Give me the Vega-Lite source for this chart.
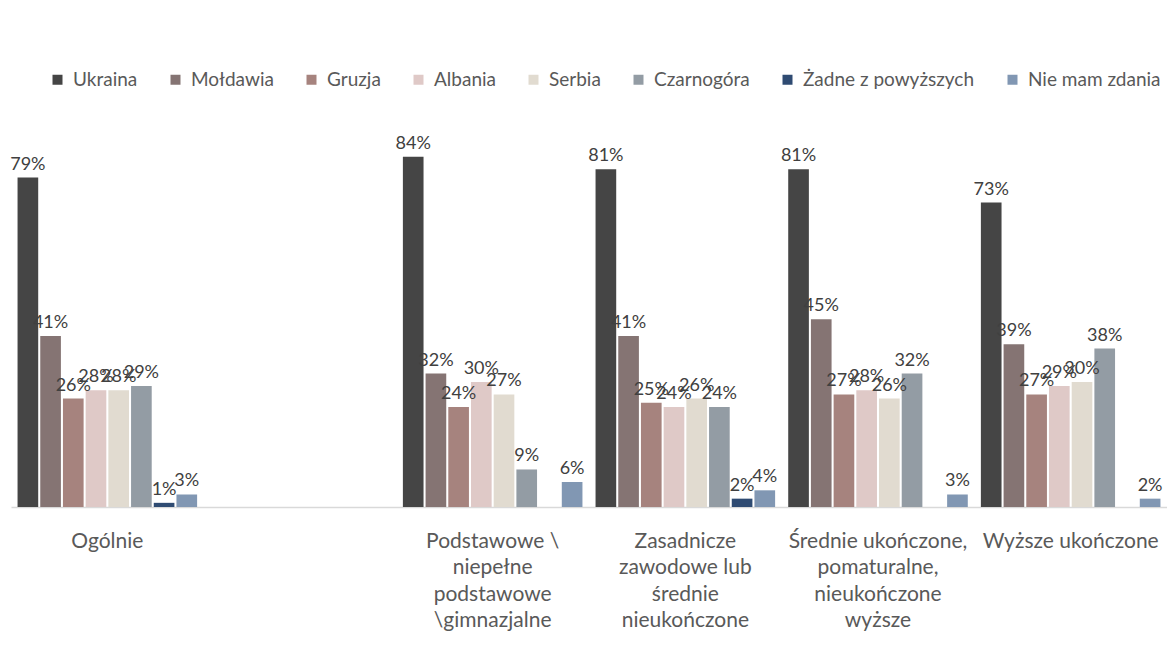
{
  "$schema": "https://vega.github.io/schema/vega-lite/v6.json",
  "width": 1156,
  "height": 417,
  "autosize": {"type": "none"},
  "padding": {"left": 11, "top": 90, "right": 0, "bottom": 143},
  "background": "white",
  "config": {"view": {"stroke": null}, "font": "Lato"},
  "data": {
    "values": [
      {"grupa": "Ogólnie", "kraj": "Ukraina", "wartosc": 0.79},
      {"grupa": "Ogólnie", "kraj": "Mołdawia", "wartosc": 0.41},
      {"grupa": "Ogólnie", "kraj": "Gruzja", "wartosc": 0.26},
      {"grupa": "Ogólnie", "kraj": "Albania", "wartosc": 0.28},
      {"grupa": "Ogólnie", "kraj": "Serbia", "wartosc": 0.28},
      {"grupa": "Ogólnie", "kraj": "Czarnogóra", "wartosc": 0.29},
      {"grupa": "Ogólnie", "kraj": "Żadne z powyższych", "wartosc": 0.01},
      {"grupa": "Ogólnie", "kraj": "Nie mam zdania", "wartosc": 0.03},
      {"grupa": "Podstawowe \\ niepełne podstawowe \\gimnazjalne", "kraj": "Ukraina", "wartosc": 0.84},
      {"grupa": "Podstawowe \\ niepełne podstawowe \\gimnazjalne", "kraj": "Mołdawia", "wartosc": 0.32},
      {"grupa": "Podstawowe \\ niepełne podstawowe \\gimnazjalne", "kraj": "Gruzja", "wartosc": 0.24},
      {"grupa": "Podstawowe \\ niepełne podstawowe \\gimnazjalne", "kraj": "Albania", "wartosc": 0.30},
      {"grupa": "Podstawowe \\ niepełne podstawowe \\gimnazjalne", "kraj": "Serbia", "wartosc": 0.27},
      {"grupa": "Podstawowe \\ niepełne podstawowe \\gimnazjalne", "kraj": "Czarnogóra", "wartosc": 0.09},
      {"grupa": "Podstawowe \\ niepełne podstawowe \\gimnazjalne", "kraj": "Nie mam zdania", "wartosc": 0.06},
      {"grupa": "Zasadnicze zawodowe lub średnie nieukończone", "kraj": "Ukraina", "wartosc": 0.81},
      {"grupa": "Zasadnicze zawodowe lub średnie nieukończone", "kraj": "Mołdawia", "wartosc": 0.41},
      {"grupa": "Zasadnicze zawodowe lub średnie nieukończone", "kraj": "Gruzja", "wartosc": 0.25},
      {"grupa": "Zasadnicze zawodowe lub średnie nieukończone", "kraj": "Albania", "wartosc": 0.24},
      {"grupa": "Zasadnicze zawodowe lub średnie nieukończone", "kraj": "Serbia", "wartosc": 0.26},
      {"grupa": "Zasadnicze zawodowe lub średnie nieukończone", "kraj": "Czarnogóra", "wartosc": 0.24},
      {"grupa": "Zasadnicze zawodowe lub średnie nieukończone", "kraj": "Żadne z powyższych", "wartosc": 0.02},
      {"grupa": "Zasadnicze zawodowe lub średnie nieukończone", "kraj": "Nie mam zdania", "wartosc": 0.04},
      {"grupa": "Średnie ukończone, pomaturalne, nieukończone wyższe", "kraj": "Ukraina", "wartosc": 0.81},
      {"grupa": "Średnie ukończone, pomaturalne, nieukończone wyższe", "kraj": "Mołdawia", "wartosc": 0.45},
      {"grupa": "Średnie ukończone, pomaturalne, nieukończone wyższe", "kraj": "Gruzja", "wartosc": 0.27},
      {"grupa": "Średnie ukończone, pomaturalne, nieukończone wyższe", "kraj": "Albania", "wartosc": 0.28},
      {"grupa": "Średnie ukończone, pomaturalne, nieukończone wyższe", "kraj": "Serbia", "wartosc": 0.26},
      {"grupa": "Średnie ukończone, pomaturalne, nieukończone wyższe", "kraj": "Czarnogóra", "wartosc": 0.32},
      {"grupa": "Średnie ukończone, pomaturalne, nieukończone wyższe", "kraj": "Nie mam zdania", "wartosc": 0.03},
      {"grupa": "Wyższe ukończone", "kraj": "Ukraina", "wartosc": 0.73},
      {"grupa": "Wyższe ukończone", "kraj": "Mołdawia", "wartosc": 0.39},
      {"grupa": "Wyższe ukończone", "kraj": "Gruzja", "wartosc": 0.27},
      {"grupa": "Wyższe ukończone", "kraj": "Albania", "wartosc": 0.29},
      {"grupa": "Wyższe ukończone", "kraj": "Serbia", "wartosc": 0.30},
      {"grupa": "Wyższe ukończone", "kraj": "Czarnogóra", "wartosc": 0.38},
      {"grupa": "Wyższe ukończone", "kraj": "Nie mam zdania", "wartosc": 0.02}
    ]
  },
  "encoding": {
    "x": {
      "field": "grupa",
      "type": "nominal",
      "sort": null,
      "scale": {
        "domain": ["Ogólnie", " ", "Podstawowe \\ niepełne podstawowe \\gimnazjalne", "Zasadnicze zawodowe lub średnie nieukończone", "Średnie ukończone, pomaturalne, nieukończone wyższe", "Wyższe ukończone"],
        "paddingInner": 0.068,
        "paddingOuter": 0.034
      },
      "axis": {
        "title": null,
        "labelAngle": 0,
        "ticks": false,
        "tickSize": 0,
        "domainColor": "#d9d9d9",
        "domainWidth": 1.5,
        "labelFont": "Lato",
        "labelFontSize": 21,
        "labelColor": "#595959",
        "labelPadding": 23,
        "labelLineHeight": 26.5,
        "labelLimit": 400,
        "labelOverlap": false,
        "labelBound": false,
        "labelFlush": false,
        "labelExpr": "indexof(datum.value, 'Podstawowe') == 0 ? ['Podstawowe \\\\', 'niepełne', 'podstawowe', '\\\\gimnazjalne'] : indexof(datum.value, 'Zasadnicze') == 0 ? ['Zasadnicze', 'zawodowe lub', 'średnie', 'nieukończone'] : indexof(datum.value, 'Średnie') == 0 ? ['Średnie ukończone,', 'pomaturalne,', 'nieukończone', 'wyższe'] : datum.value"
      }
    },
    "xOffset": {
      "field": "kraj",
      "type": "nominal",
      "sort": null,
      "scale": {
        "domain": ["Ukraina", "Mołdawia", "Gruzja", "Albania", "Serbia", "Czarnogóra", "Żadne z powyższych", "Nie mam zdania"],
        "paddingInner": 0.09,
        "paddingOuter": 0
      }
    },
    "y": {
      "field": "wartosc",
      "type": "quantitative",
      "scale": {"domain": [0, 1]},
      "axis": null
    }
  },
  "layer": [
    {
      "mark": {"type": "bar"},
      "encoding": {
        "color": {
          "field": "kraj",
          "type": "nominal",
          "sort": null,
          "scale": {
            "domain": ["Ukraina", "Mołdawia", "Gruzja", "Albania", "Serbia", "Czarnogóra", "Żadne z powyższych", "Nie mam zdania"],
            "range": ["#454545", "#857473", "#a6837e", "#dfc9c7", "#e1dbd0", "#939ca4", "#2f4b72", "#8197b3"]
          },
          "legend": {
            "title": null,
            "orient": "none",
            "direction": "horizontal",
            "columns": 8,
            "legendX": 37,
            "legendY": -20,
            "padding": 0,
            "symbolType": "square",
            "symbolSize": 100,
            "symbolStrokeWidth": 0,
            "labelFont": "Lato",
            "labelFontSize": 19,
            "labelColor": "#595959",
            "labelOffset": 6,
            "labelLimit": 300,
            "columnPadding": 28
          }
        }
      }
    },
    {
      "mark": {"type": "text", "baseline": "alphabetic", "dy": -8, "fontSize": 18, "font": "Lato", "color": "#404040"},
      "encoding": {
        "text": {"field": "wartosc", "type": "quantitative", "format": ".0%"}
      }
    }
  ]
}
